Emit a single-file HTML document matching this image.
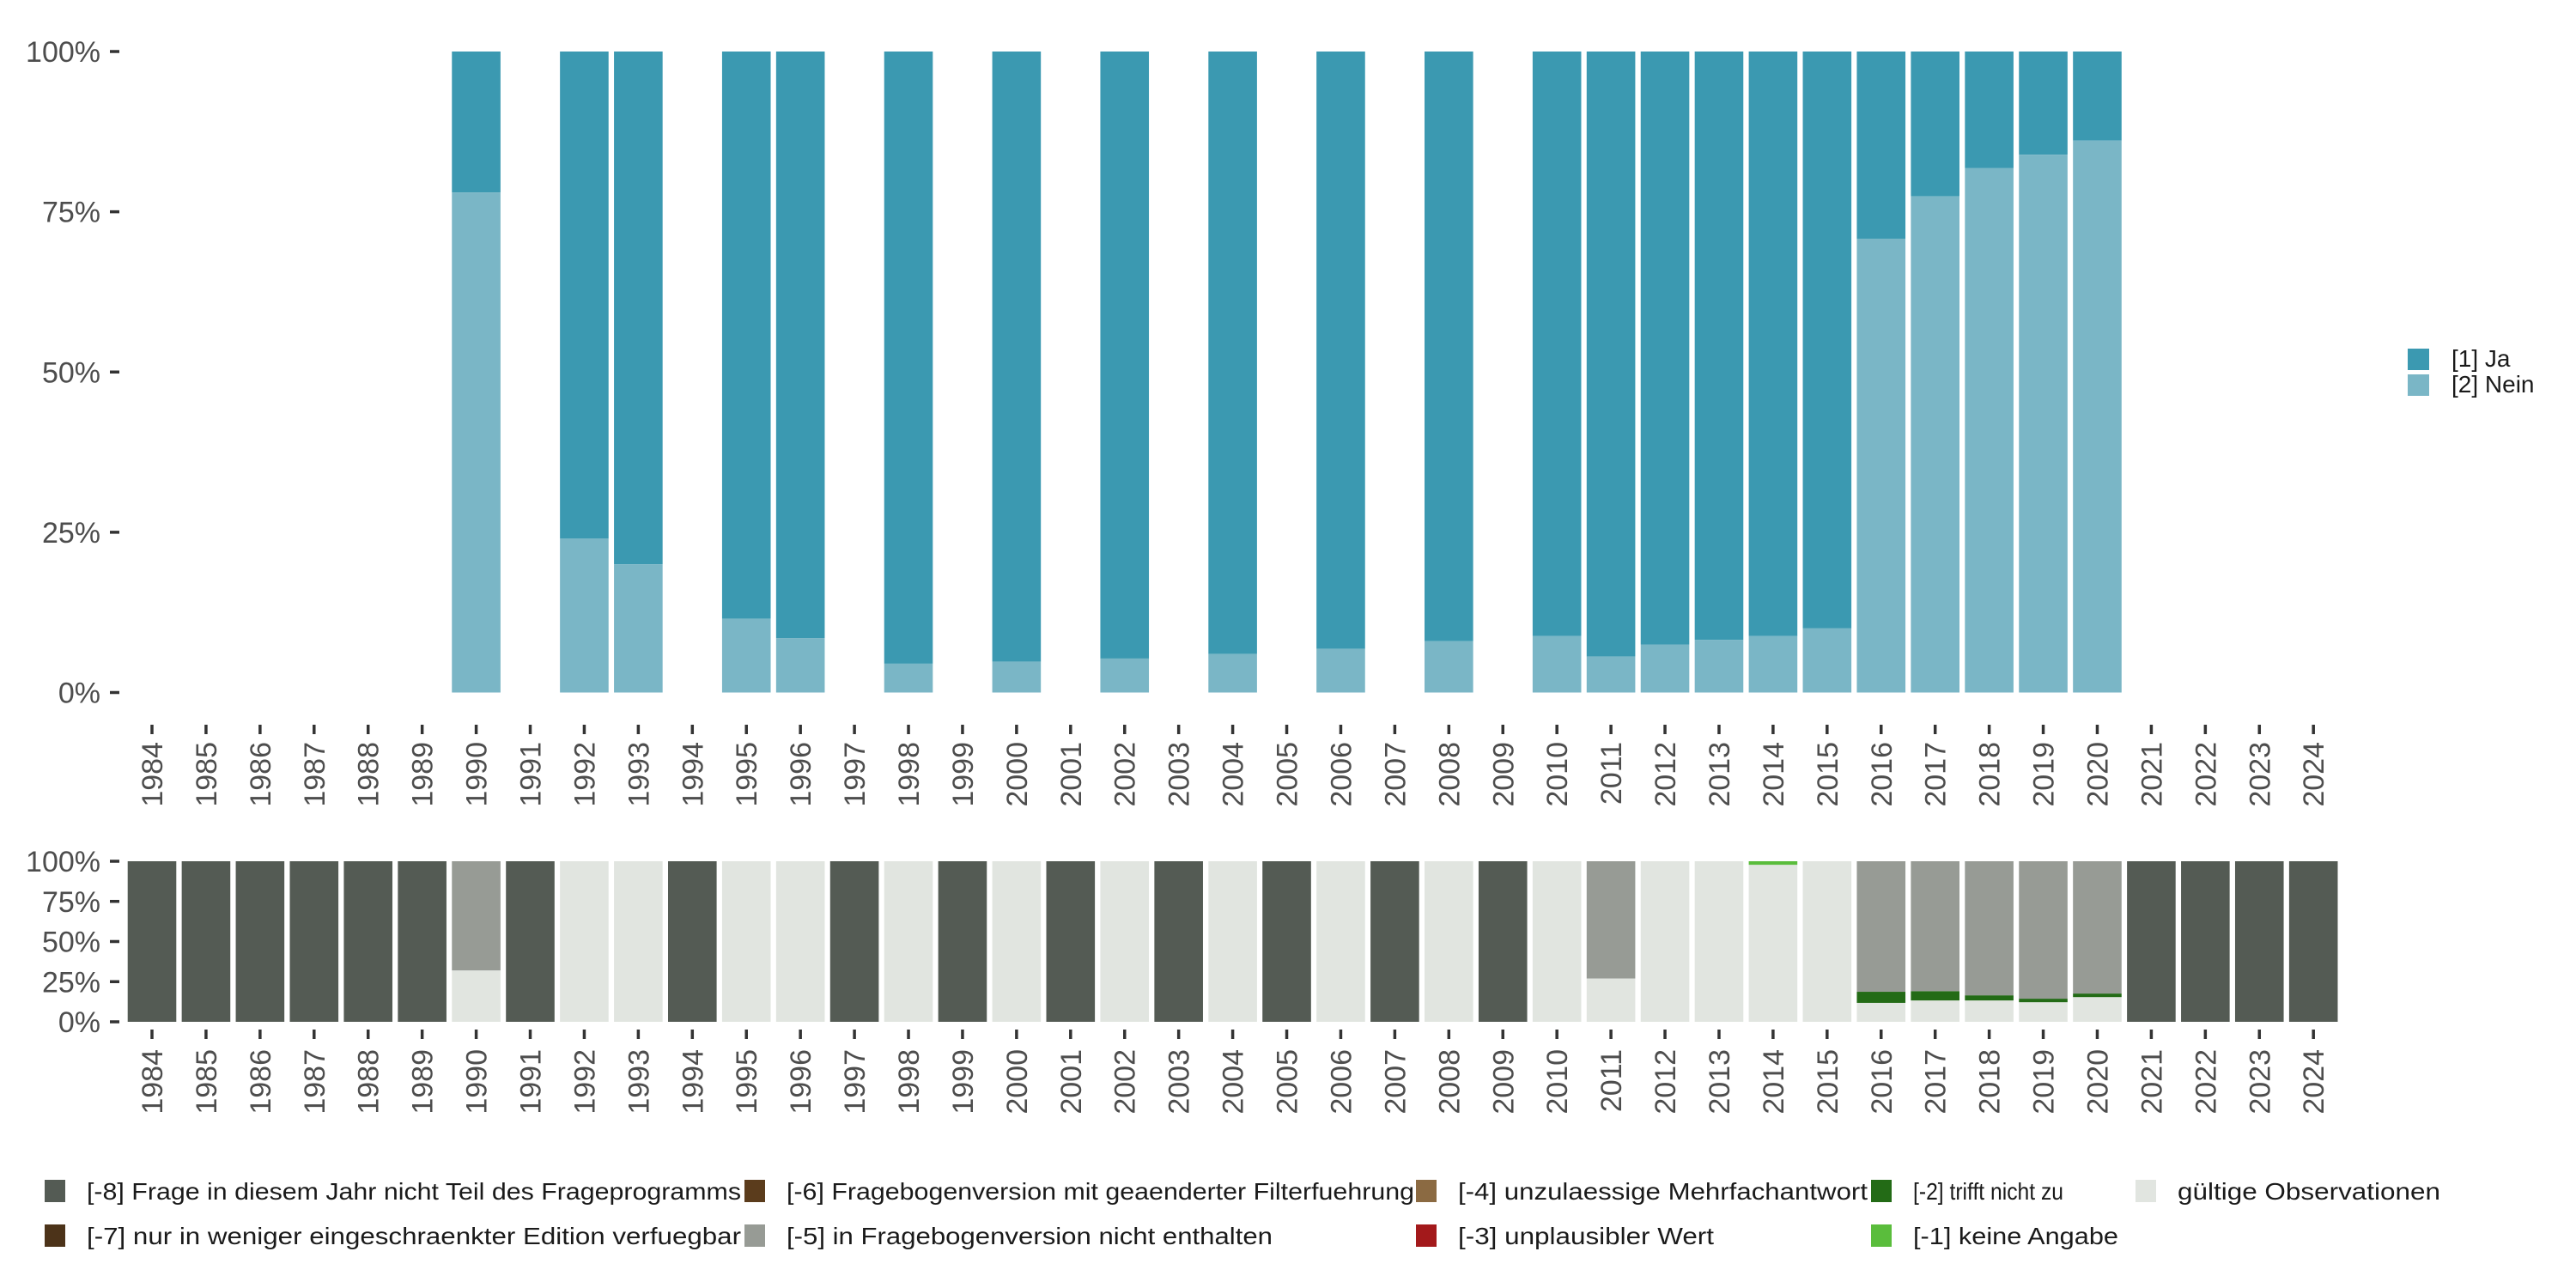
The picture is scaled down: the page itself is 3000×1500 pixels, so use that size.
<!DOCTYPE html>
<html><head><meta charset="utf-8"><style>
html,body{margin:0;padding:0;background:#fff;}
svg{display:block;font-family:"Liberation Sans",sans-serif;}
</style></head><body>
<svg id="chart" width="3000" height="1500" viewBox="0 0 3000 1500" xmlns="http://www.w3.org/2000/svg"></svg>
<script>
const years = [];
for (let y = 1984; y <= 2024; y++) years.push(y);
const topYears = [1990,1992,1993,1995,1996,1998,2000,2002,2004,2006,2008,2010,2011,2012,2013,2014,2015,2016,2017,2018,2019,2020];
const neinShare = [0.78,0.24,0.20,0.115,0.085,0.045,0.048,0.053,0.06,0.068,0.08,0.088,0.056,0.075,0.082,0.088,0.10,0.708,0.774,0.818,0.839,0.861];
const yTicks = [0,0.25,0.5,0.75,1];
const yTickLabels = ["0%","25%","50%","75%","100%"];
const notInProgramYears = [1984,1985,1986,1987,1988,1989,1991,1994,1997,1999,2001,2003,2005,2007,2009,2021,2022,2023,2024];
const partialYears = [1990,2011,2014,2016,2017,2018,2019,2020];
const partialValid = [0.32,0.27,0.978,0.118,0.133,0.133,0.122,0.154];
const partialTriffNicht = [0,0,0,0.069,0.058,0.032,0.022,0.022];
const partialKeineAngabe = [0,0,0.022,0,0,0,0,0];

const svg = document.getElementById('chart');
const NS = 'http://www.w3.org/2000/svg';
function mk(tag, attrs, parent) {
  const e = document.createElementNS(NS, tag);
  for (const k in attrs) e.setAttribute(k, attrs[k]);
  (parent || svg).appendChild(e);
  return e;
}
const step = 62.93, x0 = 177, bw = 56.6;
function xScale(yr) { return x0 + (yr - 1984) * step; }
function yTop(v) { return 806.5 - v * 746.5; }
function yBot(v) { return 1190 - v * 187; }

const C = {ja:'#3b99b1', nein:'#7ab6c6', m8:'#545b54', m7:'#4c3319', m6:'#5b3c1c', m5:'#979b95', m4:'#8b6a42', m3:'#a3191b', m2:'#236b16', m1:'#5abd3c', valid:'#e1e5e0'};

const gTop = mk('g', {});


topYears.forEach((yr, i) => {
  const x = xScale(yr) - bw / 2;
  const n = neinShare[i];
  const rj = mk('rect', {x:x, y:yTop(1), width:bw, height:yTop(n) - yTop(1), fill:C.ja}, gTop);
  
  
  const rn = mk('rect', {x:x, y:yTop(n), width:bw, height:yTop(0) - yTop(n), fill:C.nein}, gTop);
  
  
});
function yAxis(scale, name) {
  const g = mk('g', {});
  
  
  yTicks.forEach((v, i) => {
    mk('line', {x1:128, x2:139, y1:scale(v), y2:scale(v), stroke:'#333', 'stroke-width':3.5}, g);
    const t = mk('text', {x:117, y:scale(v) + 12, 'text-anchor':'end', 'font-size':34, fill:'#4d4d4d'}, g);
    t.textContent = yTickLabels[i];
    
    
  });
}
function xAxis(tickY, labelY, name) {
  const g = mk('g', {});
  
  
  years.forEach(yr => {
    const x = xScale(yr);
    mk('line', {x1:x, x2:x, y1:tickY, y2:tickY + 11, stroke:'#333', 'stroke-width':3.5}, g);
    const t = mk('text', {x:0, y:0, 'text-anchor':'end', 'font-size':34, fill:'#4d4d4d', transform:'translate(' + (x + 12) + ',' + labelY + ') rotate(-90)'}, g);
    t.textContent = yr;
    
    
  });
}
yAxis(yTop, 'top-y-axis');
xAxis(844, 864, 'top-x-axis');

const lgT = mk('g', {});


[['[1] Ja', C.ja, 406], ['[2] Nein', C.nein, 436]].forEach(d => {
  mk('rect', {x:2804, y:d[2], width:25, height:25, fill:d[1]}, lgT);
  const t = mk('text', {x:2855, y:d[2] + 21, 'font-size':28, fill:'#1a1a1a'}, lgT);
  t.textContent = d[0];
  
  
});

const gBot = mk('g', {});


years.forEach(yr => {
  const x = xScale(yr) - bw / 2;
  if (notInProgramYears.indexOf(yr) >= 0) {
    const r = mk('rect', {x:x, y:yBot(1), width:bw, height:yBot(0) - yBot(1), fill:C.m8}, gBot);
    
    
    return;
  }
  const pi = partialYears.indexOf(yr);
  let v = 1, t2 = 0, t1 = 0;
  if (pi >= 0) { v = partialValid[pi]; t2 = partialTriffNicht[pi]; t1 = partialKeineAngabe[pi]; }
  const segs = [[v, C.valid, 'valid'], [t2, C.m2, 'trifft-nicht-zu'], [t1, C.m1, 'keine-angabe']];
  let acc = 0;
  segs.forEach(s => {
    if (s[0] <= 0) return;
    const r = mk('rect', {x:x, y:yBot(acc + s[0]), width:bw, height:yBot(acc) - yBot(acc + s[0]), fill:s[1]}, gBot);
    
    
    acc += s[0];
  });
  if (acc < 0.9999) {
    const r = mk('rect', {x:x, y:yBot(1), width:bw, height:yBot(acc) - yBot(1), fill:C.m5}, gBot);
    
    
  }
});
yAxis(yBot, 'bottom-y-axis');
xAxis(1199, 1222, 'bottom-x-axis');

const lgB = mk('g', {});


const legItems = [
  ['[-8] Frage in diesem Jahr nicht Teil des Frageprogramms', C.m8, 52, 1387, 762],
  ['[-7] nur in weniger eingeschraenkter Edition verfuegbar', C.m7, 52, 1439, 762],
  ['[-6] Fragebogenversion mit geaenderter Filterfuehrung', C.m6, 867, 1387, 731],
  ['[-5] in Fragebogenversion nicht enthalten', C.m5, 867, 1439, 566],
  ['[-4] unzulaessige Mehrfachantwort', C.m4, 1649, 1387, 477],
  ['[-3] unplausibler Wert', C.m3, 1649, 1439, 298],
  ['[-2] trifft nicht zu', C.m2, 2179, 1387, 175],
  ['[-1] keine Angabe', C.m1, 2179, 1439, 239],
  ['gültige Observationen', C.valid, 2487, 1387, 306]
];
legItems.forEach(d => {
  mk('rect', {x:d[2], y:d[3] - 13, width:24, height:26, fill:d[1]}, lgB);
  const t = mk('text', {x:d[2] + 49, y:d[3] + 10, 'font-size':28, fill:'#1a1a1a', textLength:d[4], lengthAdjust:'spacingAndGlyphs'}, lgB);
  t.textContent = d[0];
  
  
});
</script>
</body></html>
